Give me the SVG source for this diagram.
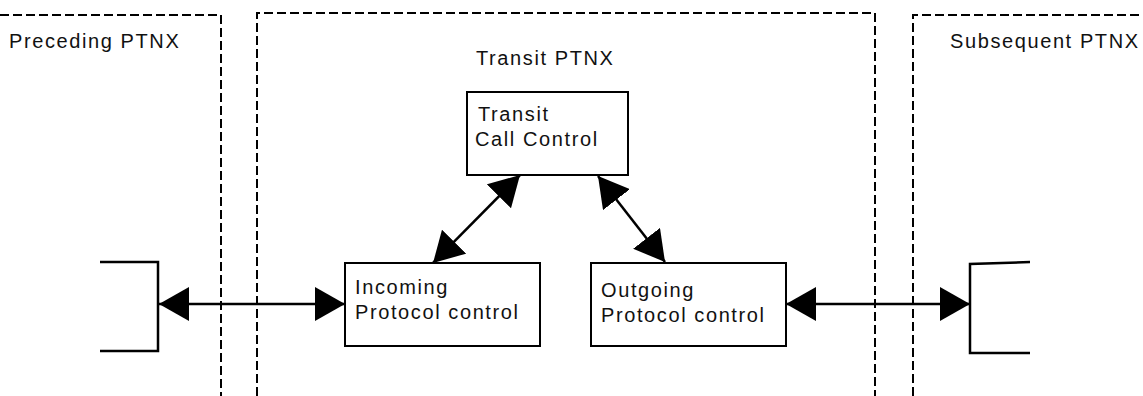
<svg xmlns="http://www.w3.org/2000/svg" width="1143" height="396" viewBox="0 0 1143 396">
<defs>
<style>
.dash{fill:none;stroke:#000;stroke-width:2;stroke-dasharray:9,4}
.box{fill:#fff;stroke:#000;stroke-width:2}
.brk{fill:none;stroke:#000;stroke-width:2.5}
.t{font-family:"Liberation Sans",Arial,sans-serif;font-size:20px;letter-spacing:1.6px;fill:#111}
.con{stroke:#000;stroke-width:2.5;fill:none;marker-start:url(#ah);marker-end:url(#ah)}
</style>
<marker id="ah" viewBox="0 0 30 34" refX="30" refY="17" markerWidth="30" markerHeight="34" markerUnits="userSpaceOnUse" orient="auto-start-reverse">
<path d="M0,0 L30,17 L0,34 Z" fill="#000"/>
</marker>
</defs>
<g id="preceding">
<path class="dash" d="M0,15 H221 V396"/>
<text class="t" x="9" y="48">Preceding PTNX</text>
<path class="brk" d="M100,262 H158 V351 H100"/>
</g>
<g id="transit">
<path class="dash" d="M257,396 V13 H875 V396"/>
<text class="t" x="476" y="65">Transit PTNX</text>
</g>
<g id="subsequent">
<path class="dash" d="M913,396 V15 H1143"/>
<text class="t" x="950" y="48">Subsequent PTNX</text>
<path class="brk" d="M1030,262 L970,264 V353 H1030"/>
</g>
<g id="transit-call-control">
<rect class="box" x="467" y="92" width="161" height="83"/>
<text class="t" x="478" y="121">Transit</text>
<text class="t" x="475" y="146">Call Control</text>
</g>
<g id="incoming">
<rect class="box" x="345" y="263" width="195" height="83"/>
<text class="t" x="355" y="294">Incoming</text>
<text class="t" x="355" y="319">Protocol control</text>
</g>
<g id="outgoing">
<rect class="box" x="591" y="263" width="195" height="83"/>
<text class="t" x="601" y="297">Outgoing</text>
<text class="t" x="601" y="322">Protocol control</text>
</g>
<g id="connectors">
<line class="con" x1="159" y1="304" x2="345" y2="304"/>
<line class="con" x1="786" y1="304" x2="970" y2="304"/>
<line class="con" x1="520" y1="175" x2="433" y2="263"/>
<line class="con" x1="598" y1="176" x2="665" y2="262"/>
</g>
</svg>
